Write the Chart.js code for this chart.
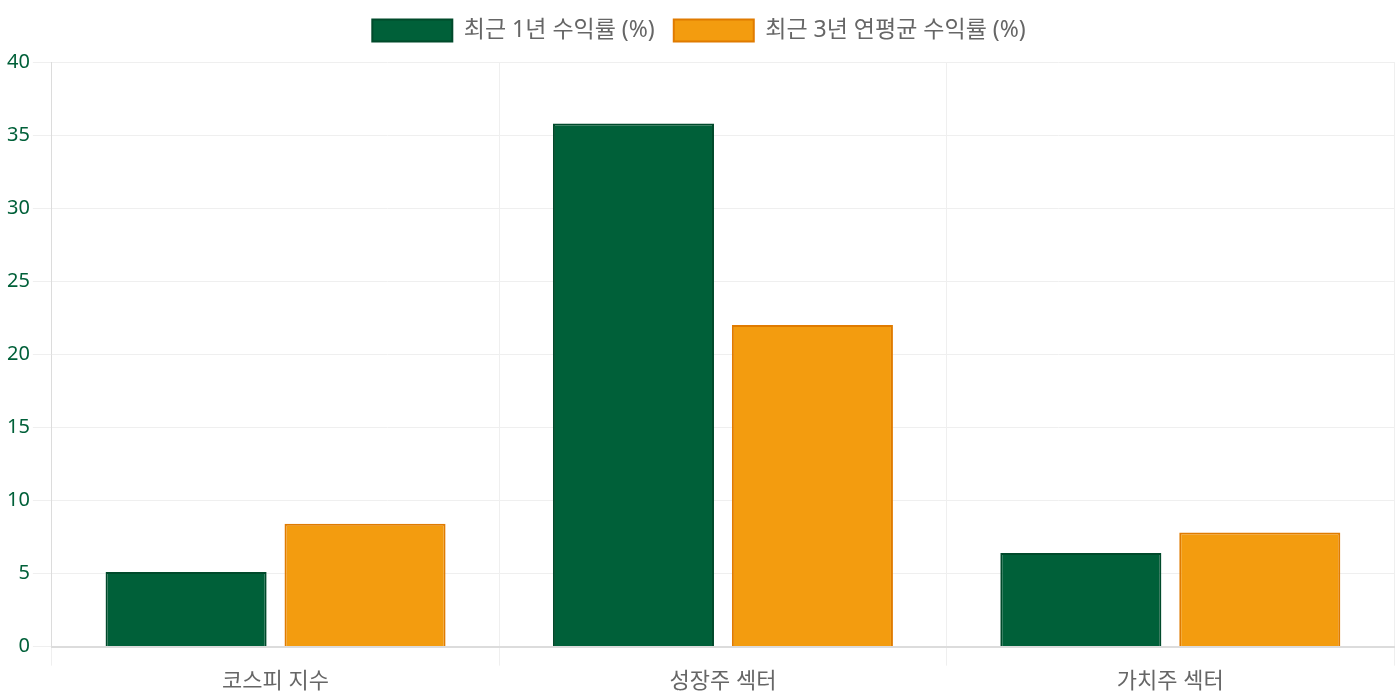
<!DOCTYPE html>
<html lang="ko">
<head>
<meta charset="utf-8">
<script src="https://cdn.jsdelivr.net/npm/chart.js@4/dist/chart.umd.min.js"></script>
<style>
  html, body { margin: 0; padding: 0; background: #fff; }
  #wrap { width: 1400px; height: 700px; }
</style>
</head>
<body>
<div id="wrap"><canvas id="returnChart"></canvas></div>
<script>
// 데이터
const categories = ['코스피 지수', '성장주 섹터', '가치주 섹터'];
const seriesLabels = ['최근 1년 수익률 (%)', '최근 3년 연평균 수익률 (%)'];
const oneYearReturn = [5.1, 35.8, 6.4];
const threeYearAvgReturn = [8.4, 22.0, 7.8];
const yTicks = [0, 5, 10, 15, 20, 25, 30, 35, 40];

Chart.defaults.font.family = '"Noto Sans", "Noto Sans CJK KR", sans-serif';

// 범례 아래 여백 추가
const legendSpacer = {
  id: 'legendSpacer',
  beforeInit(chart) {
    const origFit = chart.legend.fit;
    chart.legend.fit = function () {
      origFit.bind(chart.legend)();
      this.height += 10;
    };
  }
};

const ctx = document.getElementById('returnChart').getContext('2d');
new Chart(ctx, {
  type: 'bar',
  data: {
    labels: categories,
    datasets: [
      {
        label: seriesLabels[0],
        data: oneYearReturn,
        backgroundColor: '#006039',
        borderColor: '#004a2b',
        borderWidth: 2
      },
      {
        label: seriesLabels[1],
        data: threeYearAvgReturn,
        backgroundColor: '#f39c0f',
        borderColor: '#e07b00',
        borderWidth: 2
      }
    ]
  },
  options: {
    responsive: true,
    maintainAspectRatio: false,
    animation: false,
    layout: { padding: { left: 4, right: 6, top: 0, bottom: 2 } },
    plugins: {
      legend: {
        position: 'top',
        labels: {
          color: '#666',
          boxWidth: 80,
          boxHeight: 22,
          padding: 19,
          font: { size: 23 }
        }
      },
      tooltip: { mode: 'index', intersect: false }
    },
    scales: {
      y: {
        beginAtZero: true,
        min: yTicks[0],
        max: yTicks[yTicks.length - 1],
        ticks: { stepSize: 5, color: '#006039', font: { size: 20 } },
        grid: { color: '#efefef', tickLength: 19 },
        border: { color: '#dcdcdc' }
      },
      x: {
        ticks: { color: '#666', font: { size: 22 } },
        grid: { color: '#efefef', tickLength: 19 },
        border: { color: '#dcdcdc', width: 2 }
      }
    }
  },
  plugins: [legendSpacer]
});
</script>
</body>
</html>
